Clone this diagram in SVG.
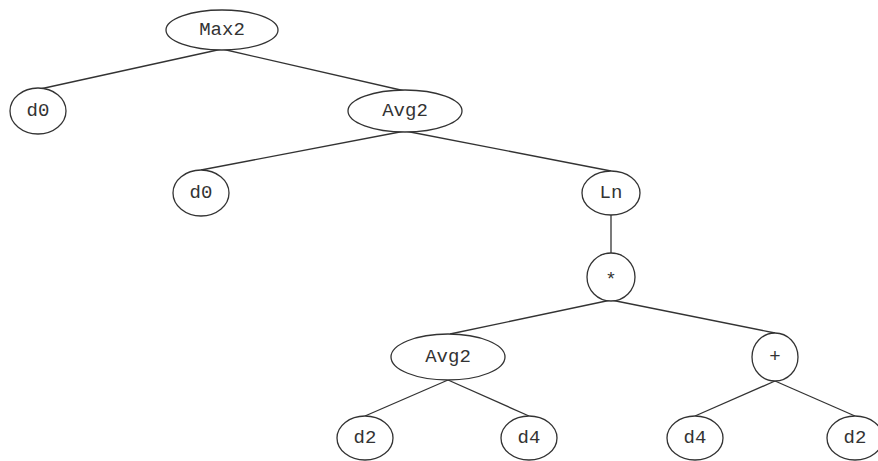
<svg xmlns="http://www.w3.org/2000/svg" width="878" height="461" viewBox="0 0 878 461">
<style>
.n{fill:#fff;stroke:#333;stroke-width:1.3}
.e{stroke:#333;stroke-width:1.3;fill:none}
text{font-family:"Liberation Mono","Courier New",monospace;font-size:19px;fill:#333;text-anchor:middle;dominant-baseline:central}
</style>
<rect width="878" height="461" fill="#fff"/>
<g id="edges">
<line class="e" x1="222" y1="49" x2="40" y2="89"/>
<line class="e" x1="222" y1="49" x2="405" y2="91"/>
<line class="e" x1="405" y1="131" x2="201" y2="170"/>
<line class="e" x1="405" y1="131" x2="611" y2="171"/>
<line class="e" x1="611" y1="215" x2="611" y2="253"/>
<line class="e" x1="611" y1="300" x2="450" y2="334"/>
<line class="e" x1="611" y1="300" x2="775" y2="333"/>
<line class="e" x1="448" y1="380" x2="365" y2="416"/>
<line class="e" x1="448" y1="380" x2="529" y2="416"/>
<line class="e" x1="775" y1="381" x2="695" y2="416"/>
<line class="e" x1="775" y1="381" x2="855" y2="416"/>
</g>
<g id="max2"><ellipse class="n" cx="222" cy="30" rx="56" ry="20"/><text x="222" y="30">Max2</text></g>
<g id="d0a"><ellipse class="n" cx="38" cy="111" rx="28" ry="23"/><text x="38" y="111">d0</text></g>
<g id="avg2a"><ellipse class="n" cx="405" cy="111" rx="57" ry="21"/><text x="405" y="111">Avg2</text></g>
<g id="d0b"><ellipse class="n" cx="201" cy="193" rx="28" ry="23"/><text x="201" y="193">d0</text></g>
<g id="ln"><ellipse class="n" cx="611" cy="193" rx="29" ry="22"/><text x="611" y="193">Ln</text></g>
<g id="mul"><ellipse class="n" cx="611" cy="277" rx="24" ry="24"/><text x="611" y="280">*</text></g>
<g id="avg2b"><ellipse class="n" cx="448" cy="357" rx="57" ry="23"/><text x="448" y="357">Avg2</text></g>
<g id="plus"><ellipse class="n" cx="775" cy="357" rx="23" ry="24"/><text x="775" y="357">+</text></g>
<g id="d2a"><ellipse class="n" cx="365" cy="438" rx="28" ry="22"/><text x="365" y="438">d2</text></g>
<g id="d4a"><ellipse class="n" cx="529" cy="438" rx="28" ry="22"/><text x="529" y="438">d4</text></g>
<g id="d4b"><ellipse class="n" cx="695" cy="438" rx="28" ry="22"/><text x="695" y="438">d4</text></g>
<g id="d2b"><ellipse class="n" cx="855" cy="438" rx="28" ry="22"/><text x="855" y="438">d2</text></g>
</svg>
